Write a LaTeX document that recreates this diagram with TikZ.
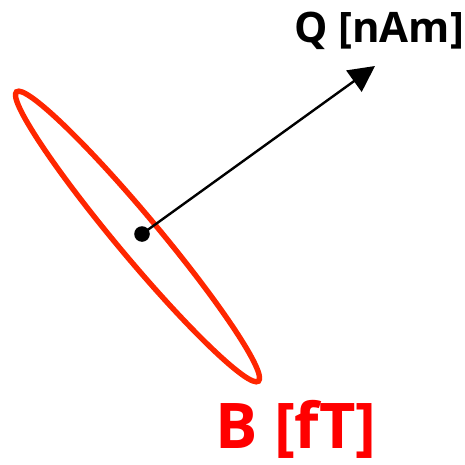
\documentclass[tikz,border=0pt]{standalone}
\usepackage{fontspec}
\setmainfont{Open Sans}
\usepackage{xcolor}
\usetikzlibrary{arrows.meta}
\definecolor{fieldred}{RGB}{255,38,0}

\begin{document}
\begin{tikzpicture}[
			x=0.5pt, y=-0.5pt,
			>={Triangle[length=13pt, width=13pt]},
			dipole/.style={circle, fill=black, inner sep=0pt, minimum size=7.8pt},
			moment/.style={->, line width=1.2pt},
			contour/.style={draw=fieldred, line width=2.7pt},
			unitlabel/.style={anchor=base, inner sep=0pt}
			]
			\useasboundingbox (0,0) rectangle (465,465);
			
			\coordinate (c) at (137.5,236.5);
			\draw[contour, rotate around={-50.1:(c)}] (c) ellipse [x radius=94.3pt, y radius=10.5pt];
			
			\node[dipole] (q) at (142,234) {};
			\coordinate (qtip) at (375,66);
			\draw[moment] (q.center) -- (qtip);
			
			\node[unitlabel, font=\fontsize{21}{25}\selectfont\bfseries] (qlabel) at (379,43) {Q [nAm]};
			\node[unitlabel, text=red, font=\fontsize{31.5}{36}\selectfont\bfseries] (blabel) at (296,448) {B [fT]};
		\end{tikzpicture}
\end{document}
